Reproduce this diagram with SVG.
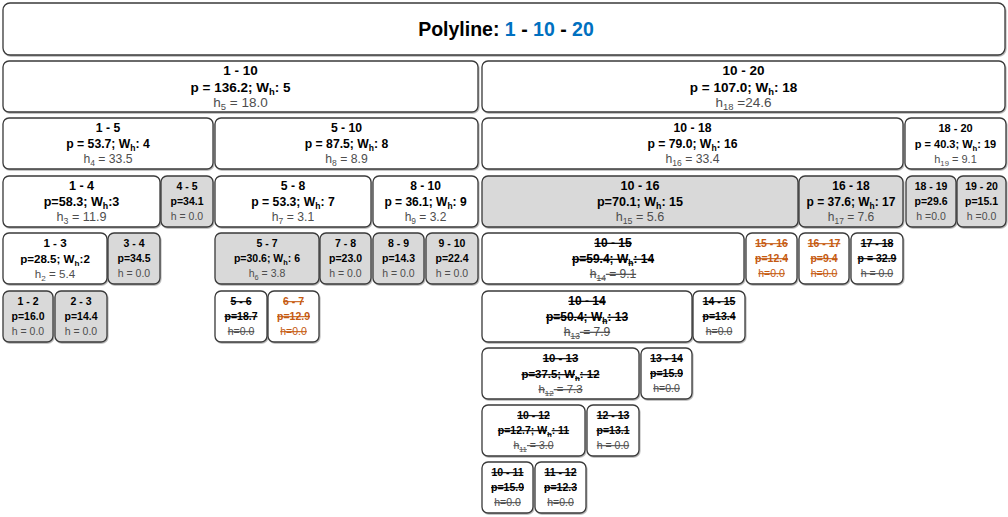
<svg xmlns="http://www.w3.org/2000/svg" width="1008" height="517" viewBox="0 0 1008 517">
<defs>
<filter id="sh" x="-5%" y="-5%" width="110%" height="120%"><feDropShadow dx="0.8" dy="1" stdDeviation="0.6" flood-color="#000" flood-opacity="0.3"/></filter>
</defs>
<style>
text{font-family:"Liberation Sans",Arial,sans-serif;text-anchor:middle;fill:#000}
.b{fill:#fff;stroke:#3a3a3a;stroke-width:1.3;filter:url(#sh)}
.g{fill:#d9d9d9}
.k{font-weight:bold}
.h{fill:#4d4d4d}
.x text{text-decoration:line-through}
.o text{fill:#c55a11}
.sb{font-size:70%}
.s135 text{font-size:13.5px}
.s126 text{font-size:12.6px}
.s122 text{font-size:12.2px}
.s120 text{font-size:12px}
.s116 text{font-size:11.6px}
.s114 text{font-size:11.4px}
.s110 text{font-size:11px}
.s105 text{font-size:10.5px}
.title{font-size:19.5px;font-weight:bold}
.blue{fill:#0070c0}
</style>
<g id="title">
<rect class="b" x="3" y="3" width="1002" height="52" rx="7"/>
<text class="title" x="506" y="36">Polyline: <tspan class="blue">1</tspan> - <tspan class="blue">10</tspan> - <tspan class="blue">20</tspan></text>
</g>
<g id="connectors"/>

<!-- Row 1 -->
<g id="n1-10" class="s135"><rect class="b" x="3" y="61" width="475" height="51" rx="6"/>
<text class="k" x="240.5" y="75">1 - 10</text>
<text class="k" x="240.5" y="91.5">p = 136.2; W<tspan class="sb" dy="3">h</tspan><tspan dy="-3">: 5</tspan></text>
<text class="h" x="240.5" y="106.5">h<tspan class="sb" dy="3">5</tspan><tspan dy="-3"> = 18.0</tspan></text></g>
<g id="n10-20" class="s135"><rect class="b" x="482" y="61" width="523" height="51" rx="6"/>
<text class="k" x="743.5" y="75">10 - 20</text>
<text class="k" x="743.5" y="91.5">p = 107.0; W<tspan class="sb" dy="3">h</tspan><tspan dy="-3">: 18</tspan></text>
<text class="h" x="743.5" y="106.5">h<tspan class="sb" dy="3">18</tspan><tspan dy="-3"> =24.6</tspan></text></g>

<!-- Row 2 -->
<g id="n1-5" class="s122"><rect class="b" x="3" y="118" width="210" height="51" rx="6"/>
<text class="k" x="108" y="132">1 - 5</text>
<text class="k" x="108" y="148">p = 53.7; W<tspan class="sb" dy="3">h</tspan><tspan dy="-3">: 4</tspan></text>
<text class="h" x="108" y="163">h<tspan class="sb" dy="3">4</tspan><tspan dy="-3"> = 33.5</tspan></text></g>
<g id="n5-10" class="s122"><rect class="b" x="215" y="118" width="263" height="51" rx="6"/>
<text class="k" x="346.5" y="132">5 - 10</text>
<text class="k" x="346.5" y="148">p = 87.5; W<tspan class="sb" dy="3">h</tspan><tspan dy="-3">: 8</tspan></text>
<text class="h" x="346.5" y="163">h<tspan class="sb" dy="3">8</tspan><tspan dy="-3"> = 8.9</tspan></text></g>
<g id="n10-18" class="s122"><rect class="b" x="482" y="118" width="421" height="51" rx="6"/>
<text class="k" x="692.5" y="132">10 - 18</text>
<text class="k" x="692.5" y="148">p = 79.0; W<tspan class="sb" dy="3">h</tspan><tspan dy="-3">: 16</tspan></text>
<text class="h" x="692.5" y="163">h<tspan class="sb" dy="3">16</tspan><tspan dy="-3"> = 33.4</tspan></text></g>
<g id="n18-20" class="s110"><rect class="b" x="905" y="118" width="101" height="51" rx="6"/>
<text class="k" x="955.5" y="132">18 - 20</text>
<text class="k" x="955.5" y="148">p = 40.3; W<tspan class="sb" dy="3">h</tspan><tspan dy="-3">: 19</tspan></text>
<text class="h" x="955.5" y="163">h<tspan class="sb" dy="3">19</tspan><tspan dy="-3"> = 9.1</tspan></text></g>

<!-- Row 3 -->
<g id="n1-4" class="s126"><rect class="b" x="3" y="176" width="157" height="51" rx="6"/>
<text class="k" x="81.5" y="190">1 - 4</text>
<text class="k" x="81.5" y="206">p=58.3; W<tspan class="sb" dy="3">h</tspan><tspan dy="-3">:3</tspan></text>
<text class="h" x="81.5" y="221">h<tspan class="sb" dy="3">3</tspan><tspan dy="-3"> = 11.9</tspan></text></g>
<g id="n4-5" class="s105"><rect class="b g" x="161" y="176" width="52" height="51" rx="6"/>
<text class="k" x="187" y="190">4 - 5</text>
<text class="k" x="187" y="205">p=34.1</text>
<text class="h" x="187" y="220">h = 0.0</text></g>
<g id="n5-8" class="s122"><rect class="b" x="215" y="176" width="156" height="51" rx="6"/>
<text class="k" x="293" y="190">5 - 8</text>
<text class="k" x="293" y="206">p = 53.3; W<tspan class="sb" dy="3">h</tspan><tspan dy="-3">: 7</tspan></text>
<text class="h" x="293" y="221">h<tspan class="sb" dy="3">7</tspan><tspan dy="-3"> = 3.1</tspan></text></g>
<g id="n8-10" class="s120"><rect class="b" x="373" y="176" width="105" height="51" rx="6"/>
<text class="k" x="425.5" y="190">8 - 10</text>
<text class="k" x="425.5" y="206">p = 36.1; W<tspan class="sb" dy="3">h</tspan><tspan dy="-3">: 9</tspan></text>
<text class="h" x="425.5" y="221">h<tspan class="sb" dy="3">9</tspan><tspan dy="-3"> = 3.2</tspan></text></g>
<g id="n10-16" class="s126"><rect class="b g" x="482" y="176" width="316" height="51" rx="6"/>
<text class="k" x="640" y="190">10 - 16</text>
<text class="k" x="640" y="206">p=70.1; W<tspan class="sb" dy="3">h</tspan><tspan dy="-3">: 15</tspan></text>
<text class="h" x="640" y="221">h<tspan class="sb" dy="3">15</tspan><tspan dy="-3"> = 5.6</tspan></text></g>
<g id="n16-18" class="s120"><rect class="b g" x="799" y="176" width="104" height="51" rx="6"/>
<text class="k" x="851" y="190">16 - 18</text>
<text class="k" x="851" y="206">p = 37.6; W<tspan class="sb" dy="3">h</tspan><tspan dy="-3">: 17</tspan></text>
<text class="h" x="851" y="221">h<tspan class="sb" dy="3">17</tspan><tspan dy="-3"> = 7.6</tspan></text></g>
<g id="n18-19" class="s105"><rect class="b g" x="906" y="176" width="50" height="51" rx="6"/>
<text class="k" x="931" y="190">18 - 19</text>
<text class="k" x="931" y="205">p=29.6</text>
<text class="h" x="931" y="220">h =0.0</text></g>
<g id="n19-20" class="s105"><rect class="b g" x="957" y="176" width="49" height="51" rx="6"/>
<text class="k" x="981.5" y="190">19 - 20</text>
<text class="k" x="981.5" y="205">p=15.1</text>
<text class="h" x="981.5" y="220">h =0.0</text></g>

<!-- Row 4 -->
<g id="n1-3" class="s116"><rect class="b" x="3" y="233" width="104" height="51" rx="6"/>
<text class="k" x="55" y="247">1 - 3</text>
<text class="k" x="55" y="263">p=28.5; W<tspan class="sb" dy="3">h</tspan><tspan dy="-3">:2</tspan></text>
<text class="h" x="55" y="278">h<tspan class="sb" dy="3">2</tspan><tspan dy="-3"> = 5.4</tspan></text></g>
<g id="n3-4" class="s105"><rect class="b g" x="108" y="233" width="52" height="51" rx="6"/>
<text class="k" x="134" y="247">3 - 4</text>
<text class="k" x="134" y="262">p=34.5</text>
<text class="h" x="134" y="277">h = 0.0</text></g>
<g id="n5-7" class="s105"><rect class="b g" x="215" y="233" width="104" height="51" rx="6"/>
<text class="k" x="267" y="247">5 - 7</text>
<text class="k" x="267" y="262">p=30.6; W<tspan class="sb" dy="3">h</tspan><tspan dy="-3">: 6</tspan></text>
<text class="h" x="267" y="277">h<tspan class="sb" dy="3">6</tspan><tspan dy="-3"> = 3.8</tspan></text></g>
<g id="n7-8" class="s105"><rect class="b g" x="320" y="233" width="51" height="51" rx="6"/>
<text class="k" x="345.5" y="247">7 - 8</text>
<text class="k" x="345.5" y="262">p=23.0</text>
<text class="h" x="345.5" y="277">h = 0.0</text></g>
<g id="n8-9" class="s105"><rect class="b g" x="373" y="233" width="51" height="51" rx="6"/>
<text class="k" x="398.5" y="247">8 - 9</text>
<text class="k" x="398.5" y="262">p=14.3</text>
<text class="h" x="398.5" y="277">h = 0.0</text></g>
<g id="n9-10" class="s105"><rect class="b g" x="426" y="233" width="52" height="51" rx="6"/>
<text class="k" x="452" y="247">9 - 10</text>
<text class="k" x="452" y="262">p=22.4</text>
<text class="h" x="452" y="277">h = 0.0</text></g>
<g id="n10-15" class="s120 x"><rect class="b" x="482" y="233" width="262" height="51" rx="6"/>
<text class="k" x="613" y="247">10 - 15</text>
<text class="k" x="613" y="263">p=59.4; W<tspan class="sb" dy="3">h</tspan><tspan dy="-3">: 14</tspan></text>
<text class="h" x="613" y="278">h<tspan class="sb" dy="3">14</tspan><tspan dy="-3"> = 9.1</tspan></text></g>
<g id="n15-16" class="s105 x o"><rect class="b" x="746" y="233" width="51" height="51" rx="6"/>
<text class="k" x="771.5" y="247">15 - 16</text>
<text class="k" x="771.5" y="262">p=12.4</text>
<text x="771.5" y="277">h=0.0</text></g>
<g id="n16-17" class="s105 x o"><rect class="b" x="799" y="233" width="50" height="51" rx="6"/>
<text class="k" x="824" y="247">16 - 17</text>
<text class="k" x="824" y="262">p=9.4</text>
<text x="824" y="277">h=0.0</text></g>
<g id="n17-18" class="s105 x"><rect class="b" x="851" y="233" width="52" height="51" rx="6"/>
<text class="k" x="877" y="247">17 - 18</text>
<text class="k" x="877" y="262">p = 32.9</text>
<text class="h" x="877" y="277">h = 0.0</text></g>

<!-- Row 5 -->
<g id="n1-2" class="s105"><rect class="b g" x="3" y="291" width="50" height="51" rx="6"/>
<text class="k" x="28" y="305">1 - 2</text>
<text class="k" x="28" y="320">p=16.0</text>
<text class="h" x="28" y="335">h = 0.0</text></g>
<g id="n2-3" class="s105"><rect class="b g" x="55" y="291" width="52" height="51" rx="6"/>
<text class="k" x="81" y="305">2 - 3</text>
<text class="k" x="81" y="320">p=14.4</text>
<text class="h" x="81" y="335">h = 0.0</text></g>
<g id="n5-6" class="s105 x"><rect class="b" x="215" y="291" width="52" height="51" rx="6"/>
<text class="k" x="241" y="305">5 - 6</text>
<text class="k" x="241" y="320">p=18.7</text>
<text class="h" x="241" y="335">h=0.0</text></g>
<g id="n6-7" class="s105 x o"><rect class="b" x="268" y="291" width="51" height="51" rx="6"/>
<text class="k" x="293.5" y="305">6 - 7</text>
<text class="k" x="293.5" y="320">p=12.9</text>
<text x="293.5" y="335">h=0.0</text></g>
<g id="n10-14" class="s120 x"><rect class="b" x="482" y="291" width="210" height="51" rx="6"/>
<text class="k" x="587" y="305">10 - 14</text>
<text class="k" x="587" y="321">p=50.4; W<tspan class="sb" dy="3">h</tspan><tspan dy="-3">: 13</tspan></text>
<text class="h" x="587" y="336">h<tspan class="sb" dy="3">13</tspan><tspan dy="-3"> = 7.9</tspan></text></g>
<g id="n14-15" class="s105 x"><rect class="b" x="693" y="291" width="52" height="51" rx="6"/>
<text class="k" x="719" y="305">14 - 15</text>
<text class="k" x="719" y="320">p=13.4</text>
<text class="h" x="719" y="335">h=0.0</text></g>

<!-- Row 6 -->
<g id="n10-13" class="s114 x"><rect class="b" x="482" y="348" width="157" height="51" rx="6"/>
<text class="k" x="560.5" y="362">10 - 13</text>
<text class="k" x="560.5" y="378">p=37.5; W<tspan class="sb" dy="3">h</tspan><tspan dy="-3">: 12</tspan></text>
<text class="h" x="560.5" y="393">h<tspan class="sb" dy="3">12</tspan><tspan dy="-3"> = 7.3</tspan></text></g>
<g id="n13-14" class="s105 x"><rect class="b" x="641" y="348" width="51" height="51" rx="6"/>
<text class="k" x="666.5" y="362">13 - 14</text>
<text class="k" x="666.5" y="377">p=15.9</text>
<text class="h" x="666.5" y="392">h=0.0</text></g>

<!-- Row 7 -->
<g id="n10-12" class="s105 x"><rect class="b" x="482" y="405" width="103" height="51" rx="6"/>
<text class="k" x="533.5" y="419">10 - 12</text>
<text class="k" x="533.5" y="434">p=12.7; W<tspan class="sb" dy="3">h</tspan><tspan dy="-3">: 11</tspan></text>
<text class="h" x="533.5" y="449">h<tspan class="sb" dy="3">11</tspan><tspan dy="-3"> = 3.0</tspan></text></g>
<g id="n12-13" class="s105 x"><rect class="b" x="587" y="405" width="52" height="51" rx="6"/>
<text class="k" x="613" y="419">12 - 13</text>
<text class="k" x="613" y="434">p=13.1</text>
<text class="h" x="613" y="449">h = 0.0</text></g>

<!-- Row 8 -->
<g id="n10-11" class="s105 x"><rect class="b" x="482" y="462" width="51" height="51" rx="6"/>
<text class="k" x="507.5" y="476">10 - 11</text>
<text class="k" x="507.5" y="491">p=15.9</text>
<text class="h" x="507.5" y="506">h=0.0</text></g>
<g id="n11-12" class="s105 x"><rect class="b" x="535" y="462" width="51" height="51" rx="6"/>
<text class="k" x="560.5" y="476">11 - 12</text>
<text class="k" x="560.5" y="491">p=12.3</text>
<text class="h" x="560.5" y="506">h=0.0</text></g>
</svg>
